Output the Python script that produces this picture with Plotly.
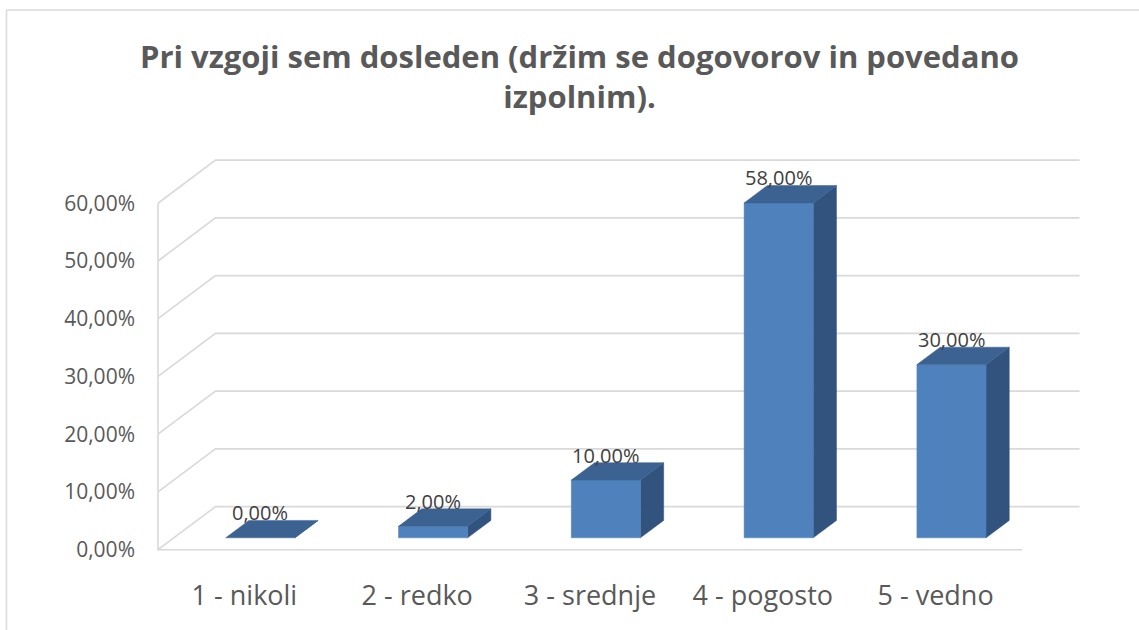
import plotly.graph_objects as go

# ---------------- data ----------------
categories = ["1 - nikoli", "2 - redko", "3 - srednje", "4 - pogosto", "5 - vedno"]
values = [0, 2, 10, 58, 30]
data_labels = ["0,00%", "2,00%", "10,00%", "58,00%", "30,00%"]
tick_values = [0, 10, 20, 30, 40, 50, 60]
tick_labels = ["0,00%", "10,00%", "20,00%", "30,00%", "40,00%", "50,00%", "60,00%"]
title_text = "Pri vzgoji sem dosleden (držim se dogovorov in povedano<br>izpolnim)."

# ---------------- geometry (pixel layout of the pseudo-3D frame) ----------------
W, H = 1139, 630
PX_PER_CAT = 172.8      # px per category on front plane
PX_PER_PCT = 5.83       # px per 1 % on front plane
FRONT_LEFT_PX = 158     # x pixel of category -0.5 on front plane
FRONT_ZERO_PX = 555     # y pixel of 0 % on front plane
DEPTH_PX = (57.5, 43.5) # screen offset from front plane to back wall
PLOT_L, PLOT_R, PLOT_T, PLOT_B = 150, 1092, 150, 562

DX = DEPTH_PX[0] / PX_PER_CAT       # depth offset in category units
DY = DEPTH_PX[1] / PX_PER_PCT       # depth offset in % units
BAR_D1, BAR_D2 = 0.276, 0.68        # bar front / back depth fractions
BAR_HW = 0.2                        # half bar width (category units)

x_range = [(PLOT_L - FRONT_LEFT_PX) / PX_PER_CAT - 0.5, (PLOT_R - FRONT_LEFT_PX) / PX_PER_CAT - 0.5]
y_range = [(FRONT_ZERO_PX - PLOT_B) / PX_PER_PCT, (FRONT_ZERO_PX - PLOT_T) / PX_PER_PCT]


def proj(x, v, d):
    return x + d * DX, v + d * DY


GRID = "#D9D9D9"
FRONT = "#4F81BD"
TOP = "#3C6291"
SIDE = "#32537E"
TEXT = "#595959"

fig = go.Figure()

# ----- gridlines: left wall diagonals + back wall, front edges -----
n = len(categories)
gx, gy = [], []
for t in tick_values:
    for pt in [proj(-0.5, t, 0), proj(-0.5, t, 1), proj(n - 0.5, t, 1)]:
        gx.append(pt[0]); gy.append(pt[1])
    gx.append(None); gy.append(None)
for pt in [proj(-0.5, tick_values[-1], 0), proj(-0.5, 0, 0), proj(n - 0.5, 0, 0)]:
    gx.append(pt[0]); gy.append(pt[1])
fig.add_trace(go.Scatter(x=gx, y=gy, mode="lines", line=dict(color=GRID, width=1.6),
                         hoverinfo="skip", showlegend=False))


def poly(points, color):
    xs = [p[0] for p in points] + [points[0][0]]
    ys = [p[1] for p in points] + [points[0][1]]
    fig.add_trace(go.Scatter(x=xs, y=ys, mode="lines", fill="toself", fillcolor=color,
                             line=dict(color=color, width=0.5), hoverinfo="skip",
                             showlegend=False))


# ----- bars (side, front, top faces) -----
for i, v in enumerate(values):
    l, r = i - BAR_HW, i + BAR_HW
    poly([proj(r, 0, BAR_D1), proj(r, 0, BAR_D2), proj(r, v, BAR_D2), proj(r, v, BAR_D1)], SIDE)
    if v > 0:
        poly([proj(l, 0, BAR_D1), proj(r, 0, BAR_D1), proj(r, v, BAR_D1), proj(l, v, BAR_D1)], FRONT)
    poly([proj(l, v, BAR_D1), proj(r, v, BAR_D1), proj(r, v, BAR_D2), proj(l, v, BAR_D2)], TOP)

# ----- data labels -----
for i, (v, lab) in enumerate(zip(values, data_labels)):
    px, py = proj(i, v, BAR_D1)
    fig.add_annotation(x=px, y=py, text=lab, showarrow=False, yshift=25,
                       font=dict(family="Open Sans", size=20, color="#404040"))

# ----- chart frame (left & top edges); paper == whole figure since margins are 0 -----
fig.add_shape(type="line", xref="paper", yref="paper", x0=6.5 / W, x1=6.5 / W,
              y0=1 - 10 / H, y1=-0.05, line=dict(color=GRID, width=1.5))
fig.add_shape(type="line", xref="paper", yref="paper", x0=6.5 / W, x1=1.05,
              y0=1 - 10 / H, y1=1 - 10 / H, line=dict(color=GRID, width=1.5))

fig.update_layout(
    width=W, height=H,
    margin=dict(l=0, r=0, t=0, b=0),
    paper_bgcolor="white", plot_bgcolor="white",
    title=dict(text=title_text, x=579.5 / W, xanchor="center", xref="paper",
               y=1 - 68 / H, yanchor="top", yref="container",
               font=dict(family="Open Sans", size=31, color=TEXT, weight="bold")),
    xaxis=dict(domain=[PLOT_L / W, PLOT_R / W], range=x_range, showgrid=False, zeroline=False,
               showline=False, tickmode="array", tickvals=list(range(n)), ticktext=categories,
               ticks="", ticklabelstandoff=20,
               tickfont=dict(family="Open Sans", size=27, color=TEXT), fixedrange=True),
    yaxis=dict(domain=[(H - PLOT_B) / H, (H - PLOT_T) / H], range=y_range, showgrid=False,
               zeroline=False, showline=False, tickmode="array", tickvals=tick_values,
               ticktext=tick_labels, ticks="", ticklabelstandoff=14,
               tickfont=dict(family="Open Sans", size=21, color=TEXT), fixedrange=True),
    showlegend=False,
)

fig.write_html("out.html", config={"displayModeBar": False},
               post_script="document.body.style.margin='0px';")
